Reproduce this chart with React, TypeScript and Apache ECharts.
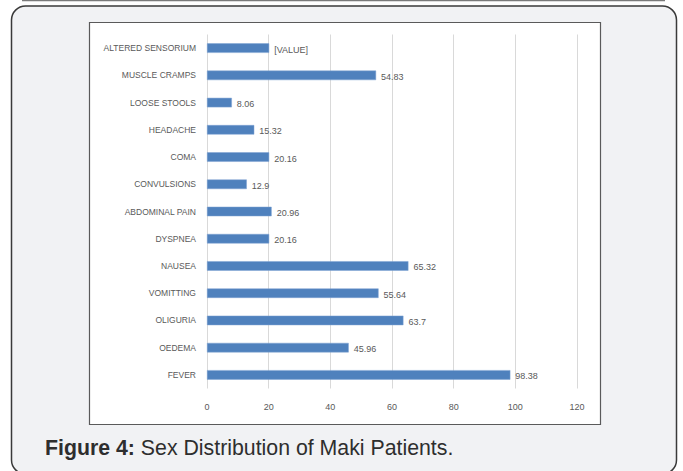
import React, { useEffect, useRef } from "react";
import * as echarts from "echarts";

// Symptom categories, top to bottom
const categories: string[] = [
  "ALTERED SENSORIUM",
  "MUSCLE CRAMPS",
  "LOOSE STOOLS",
  "HEADACHE",
  "COMA",
  "CONVULSIONS",
  "ABDOMINAL PAIN",
  "DYSPNEA",
  "NAUSEA",
  "VOMITTING",
  "OLIGURIA",
  "OEDEMA",
  "FEVER",
];

// Percentage of patients per symptom
const values: number[] = [
  20.16, 54.83, 8.06, 15.32, 20.16, 12.9, 20.96, 20.16, 65.32, 55.64, 63.7, 45.96, 98.38,
];

// Text shown beside each bar (first entry kept as the unresolved placeholder)
const barLabels: string[] = [
  "[VALUE]", "54.83", "8.06", "15.32", "20.16", "12.9", "20.96", "20.16", "65.32", "55.64", "63.7", "45.96", "98.38",
];

const xTicks = { min: 0, max: 120, interval: 20 };

const caption = "Sex Distribution of Maki Patients.";

const TEXT_GRAY = "#595959";
const CHART_FONT = "'Liberation Sans', Arial, sans-serif";

export default function App() {
  const ref = useRef<HTMLDivElement | null>(null);

  useEffect(() => {
    if (!ref.current) return;
    const chart = echarts.init(ref.current, undefined, { renderer: "svg" });

    chart.setOption({
      animation: false,
      backgroundColor: "#ffffff",
      textStyle: { fontFamily: CHART_FONT },
      graphic: [
        // bottom rule of the preceding panel
        {
          type: "line",
          z: -20,
          shape: { x1: 22, y1: 0.5, x2: 665, y2: 0.5 },
          style: { stroke: "#7a7a7a", lineWidth: 1.5 },
        },
        // rounded figure panel
        {
          type: "rect",
          z: -20,
          shape: { x: 11.5, y: 6, width: 665, height: 468, r: 14 },
          style: { fill: "#f1f2f4", stroke: "#3a3a3a", lineWidth: 1.5 },
        },
        // white chart box
        {
          type: "rect",
          z: -19,
          shape: { x: 89.5, y: 22.5, width: 511, height: 402 },
          style: { fill: "#ffffff", stroke: "#5a5a5a", lineWidth: 1.2 },
        },
        {
          type: "text",
          z: 10,
          x: 45,
          y: 448,
          style: {
            verticalAlign: "middle",
            align: "left",
            rich: {
              b: { fontWeight: "bold", fontSize: 21.3, fill: "#2e2e2e", fontFamily: CHART_FONT },
              n: { fontSize: 21.3, fill: "#2e2e2e", fontFamily: CHART_FONT },
            },
            text: `{b|Figure 4: }{n|${caption}}`,
          },
        },
      ],
      grid: {
        left: 207,
        right: 106,
        top: 34.5,
        bottom: 82.5,
        containLabel: false,
      },
      xAxis: {
        type: "value",
        min: xTicks.min,
        max: xTicks.max,
        interval: xTicks.interval,
        axisLine: { show: false },
        axisTick: { show: false },
        axisLabel: { color: TEXT_GRAY, fontSize: 9, margin: 14 },
        splitLine: { show: true, lineStyle: { color: "#d9d9d9", width: 1 } },
      },
      yAxis: {
        type: "category",
        inverse: true,
        data: categories,
        axisLine: { show: false },
        axisTick: { show: false },
        axisLabel: { color: TEXT_GRAY, fontSize: 8.5, margin: 11 },
        splitLine: { show: false },
      },
      series: [
        {
          type: "bar",
          data: values,
          barWidth: 9.5,
          itemStyle: { color: "#4f81bd", borderColor: "#7ea3d3", borderWidth: 0.5 },
          label: {
            show: true,
            position: "right",
            distance: 5,
            offset: [0, 1.5],
            color: TEXT_GRAY,
            fontSize: 9,
            formatter: (p: any) => barLabels[p.dataIndex],
          },
        },
      ],
    });

    return () => chart.dispose();
  }, []);

  return (
    <div
      ref={ref}
      style={{ position: "fixed", left: 0, top: 0, width: 683, height: 471 }}
    />
  );
}
